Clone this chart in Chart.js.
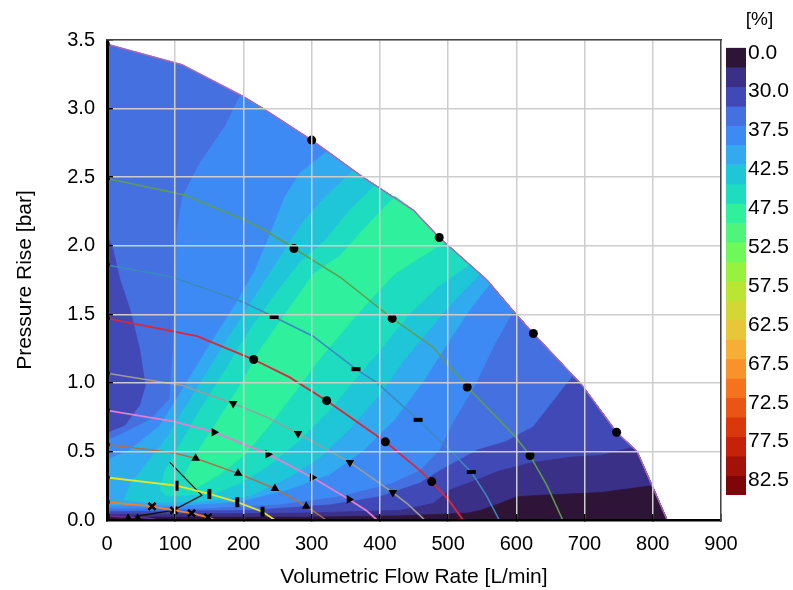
<!DOCTYPE html>
<html><head><meta charset="utf-8">
<script src="https://cdn.jsdelivr.net/npm/chart.js@4/dist/chart.umd.min.js"></script>
<style>
body{margin:0;background:#fff}
#wrap{position:relative;width:793px;height:590px;overflow:hidden}
canvas{position:absolute;top:0}
</style></head>
<body><div id="wrap">
<canvas id="main" width="793" height="590" style="left:0;width:793px;height:590px"></canvas>
<canvas id="cbar" width="71" height="590" style="left:722px;width:71px;height:590px"></canvas>
</div>
<script>
// ---------- data (flow L/min, pressure bar) ----------
const envelope = [[0,3.47],[110,3.32],[199,3.09],[229,3.00],[300,2.77],[375,2.50],[449,2.26],[487,2.06],[557,1.75],[598,1.51],[625,1.36],[696,0.985],[747,0.64],[777,0.50],[800,0.24],[821,0]];

// efficiency contour boundaries (upper-left side)
const bRoyalLight = [[195,3.09],[173,2.87],[136,2.60],[111,2.36],[103,2.12],[100,1.75],[97,1.24],[92,0.88],[63,0.73],[19,0.62],[0,0.58]];
const bLightSky  = [[323,2.69],[283,2.53],[261,2.36],[239,2.08],[217,1.82],[188,1.57],[151,1.28],[114,0.98],[78,0.69],[34,0.51],[0,0.44]];
const bSkyCyan   = [[361,2.55],[323,2.37],[290,2.19],[261,1.97],[227,1.71],[195,1.46],[158,1.17],[122,0.88],[85,0.58],[56,0.40],[34,0.26],[25,0.14]];
const bCyanTurq  = [[393,2.44],[356,2.26],[320,2.04],[283,1.88],[246,1.64],[210,1.39],[173,1.09],[136,0.80],[107,0.55],[85,0.36],[78,0.22],[88,0.17]];
const bTurqGreen = [[422,2.36],[378,2.13],[342,1.93],[302,1.79],[261,1.50],[224,1.24],[195,0.98],[158,0.69],[129,0.47],[114,0.33],[128,0.22]];
// lower-right side
const bGreenTurq = [[496,2.02],[459,1.91],[422,1.79],[386,1.60],[349,1.39],[312,1.17],[276,0.93],[239,0.69],[202,0.47],[166,0.33],[128,0.22]];
const bTurqCyan  = [[532,1.86],[488,1.71],[444,1.50],[408,1.28],[364,1.02],[327,0.80],[283,0.58],[239,0.40],[195,0.26],[151,0.18],[88,0.17]];
const bCyanSky   = [[547,1.79],[510,1.60],[474,1.39],[437,1.17],[400,0.91],[356,0.66],[312,0.45],[268,0.31],[210,0.17],[136,0.13],[60,0.12],[25,0.14]];
const bSkyLight  = [[562,1.72],[532,1.53],[503,1.31],[466,1.02],[422,0.73],[378,0.51],[327,0.33],[268,0.22],[195,0.13],[107,0.10],[0,0.10]];
const bLightRoyal= [[595,1.51],[569,1.28],[540,0.98],[510,0.73],[488,0.51],[459,0.36],[415,0.26],[342,0.17],[254,0.11],[136,0.08],[0,0.08]];
const bRoyalIndigo=[[683,1.05],[650,0.84],[625,0.68],[584,0.57],[543,0.51],[510,0.42],[488,0.36],[459,0.27],[400,0.17],[327,0.11],[210,0.07],[0,0.06]];
const bIndigoDark= [[771,0.53],[723,0.47],[683,0.46],[625,0.42],[576,0.36],[551,0.31],[525,0.26],[503,0.22],[478,0.12],[430,0.07],[283,0.05],[0,0.04]];
const bDarkPurple= [[799,0.25],[723,0.20],[635,0.18],[601,0.17],[576,0.12],[547,0.07],[528,0.05],[430,0.03],[283,0.02],[0,0.02]];
const leftIndigo = [[0,2.08],[9,1.97],[19,1.75],[34,1.53],[48,1.24],[56,0.98],[48,0.84],[26,0.69],[0,0.64],[0,2.08]];

// speed curves
const curveGreen  = [[0,2.49],[114,2.37],[200,2.19],[229,2.12],[274,1.98],[342,1.77],[418,1.47],[478,1.26],[528,0.97],[598,0.61],[620,0.47],[645,0.25],[668,0]];
const curveBlue   = [[0,1.86],[97,1.77],[199,1.59],[245,1.48],[302,1.34],[365,1.10],[396,1.00],[456,0.73],[500,0.52],[534,0.35],[556,0.18],[575,0]];
const curveRed    = [[0,1.47],[132,1.34],[215,1.17],[268,1.04],[322,0.87],[408,0.57],[459,0.36],[476,0.28],[500,0.15],[522,0]];
const curveGray   = [[0,1.07],[111,0.98],[185,0.85],[234,0.75],[280,0.63],[356,0.42],[419,0.20],[440,0.12],[455,0.05],[466,0]];
const curvePink   = [[0,0.80],[97,0.72],[157,0.64],[236,0.48],[301,0.31],[355,0.15],[380,0.07],[396,0]];
const curveBrown  = [[0,0.55],[97,0.49],[130,0.45],[192,0.34],[246,0.23],[292,0.10],[310,0.04],[321,0]];
const curveYellow = [[0,0.31],[102,0.25],[150,0.19],[191,0.13],[228,0.06],[246,0]];
const curveOrange = [[0,0.13],[66,0.10],[98,0.07],[124,0.05],[148,0.02],[158,0]];
const curveBottom = [[0,0.03],[31,0.02],[45,0.02],[60,0.015],[75,0]];
const operatingLine = [[92,0.42],[139,0.18],[97,0.07],[59,0.04],[40,0.025]];

// markers
const mkEnvelope = [[300,2.77],[487,2.06],[625,1.36],[747,0.64]];
const mkGreen  = [[274,1.98],[418,1.47],[528,0.97],[620,0.47]];
const mkBlue   = [[245,1.48],[365,1.10],[456,0.73],[534,0.35]];
const mkRed    = [[215,1.17],[322,0.87],[408,0.57],[476,0.28]];
const mkGray   = [[185,0.85],[280,0.63],[356,0.42],[419,0.20]];
const mkPink   = [[157,0.64],[236,0.48],[301,0.31],[355,0.15]];
const mkBrown  = [[130,0.45],[192,0.34],[246,0.23],[292,0.10]];
const mkYellow = [[102,0.25],[150,0.19],[191,0.13],[228,0.06]];
const mkOrange = [[66,0.10],[98,0.07],[124,0.05],[148,0.02]];
const mkBottom = [[31,0.02],[45,0.02]];

// colour scale
const colorbarLabels = ['0.0','30.0','37.5','42.5','47.5','52.5','57.5','62.5','67.5','72.5','77.5','82.5'];
const colorbarColors = ['#2e1538','#3b3088','#4149b6','#4570e0','#3e8af4','#31aaef','#1fc6d8','#1edcbf','#2ef09d','#4ff57a','#6ef85a','#97f23d','#b8e632','#d3d634','#e8c63a','#f7ae34','#f8922a','#f5731f','#e85514','#d8380c','#c4220a','#a21208','#7e0608'];

// ---------- build ----------
const FONT = "'Liberation Sans', Arial, sans-serif";
const C = colorbarColors;
const xy = a => a.map(p => ({x:p[0], y:p[1]}));
const envEnd = envelope[envelope.length-1];

function region(b){
  const s = b[0], e = b[b.length-1];
  const pts = [...b, [e[0],0], envEnd];
  const env = envelope.filter(p => p[0] > s[0]).reverse().slice(1);
  return [...pts, ...env, s];
}
let paint = 0;
function polyDS(pts, color){
  return {data: xy(pts), fill:'shape', backgroundColor:color, borderColor:color, borderWidth:0.8,
          pointRadius:0, tension:0, order: 1000 - (paint++)};
}
function lineDS(pts, color, w){
  return {data: xy(pts), borderColor:color, borderWidth:w, pointRadius:0, fill:false, tension:0, order:100};
}
function markDS(pts, style, rot, r, bw){
  return {data: xy(pts), showLine:false, pointStyle:style, rotation:rot, pointRadius:r,
          pointBackgroundColor:'#000', pointBorderColor:'#000', pointBorderWidth:bw, order:10};
}

const baseRegion = [...envelope, [0,0], envelope[0]];
const curves = [envelope, curveGreen, curveBlue, curveRed, curveGray, curvePink, curveBrown, curveYellow, curveOrange, curveBottom];

const datasets = [
  polyDS(baseRegion, C[3]),
  polyDS(region(bRoyalLight), C[4]),
  polyDS(region(bLightSky), C[5]),
  polyDS(region(bSkyCyan), C[6]),
  polyDS(region(bCyanTurq), C[7]),
  polyDS(region(bTurqGreen), C[8]),
  polyDS(region(bGreenTurq), C[7]),
  polyDS(region(bTurqCyan), C[6]),
  polyDS(region(bCyanSky), C[5]),
  polyDS(region(bSkyLight), C[4]),
  polyDS(region(bLightRoyal), C[3]),
  polyDS(region(bRoyalIndigo), C[2]),
  polyDS(region(bIndigoDark), C[1]),
  polyDS(region(bDarkPurple), C[0]),
  polyDS(leftIndigo, C[2]),
  lineDS(envelope, '#a868b8', 1.5),
  lineDS(curveGreen, '#5e9e4e', 1.5),
  lineDS(curveBlue, '#3a8abf', 1.5),
  lineDS(curveRed, '#d8283c', 1.8),
  lineDS(curveGray, '#9c9c9c', 1.5),
  lineDS(curvePink, '#e27fd0', 1.8),
  lineDS(curveBrown, '#b0704a', 1.5),
  lineDS(curveYellow, '#e6e62a', 1.8),
  lineDS(curveOrange, '#f07f28', 1.8),
  lineDS(curveBottom, '#6b2f8f', 1.5),
  lineDS(operatingLine, '#111111', 1.3),
  markDS(mkEnvelope, 'circle', 0, 4.5, 0),
  markDS(mkGreen, 'circle', 0, 4.5, 0),
  markDS(mkRed, 'circle', 0, 4.5, 0),
  markDS(mkBlue, 'line', 0, 4.5, 4),
  markDS(mkGray, 'triangle', 180, 5, 0),
  markDS(mkPink, 'triangle', 90, 5, 0),
  markDS(mkBrown, 'triangle', 0, 5, 0),
  markDS(mkYellow, 'line', 90, 5, 4),
  markDS(mkOrange, 'crossRot', 0, 5, 2.5),
  markDS(mkBottom, 'triangle', 0, 4, 0),
  markDS(curves.map(c => c[0]), 'circle', 0, 2.8, 0)
];

const tickFont = {size:20, family:FONT};
const titleFont = {size:21, family:FONT};
new Chart(document.getElementById('main'), {
  type:'line',
  data:{datasets},
  options:{
    responsive:false, animation:false, events:[],
    layout:{padding:{left:0, right:72, top:40, bottom:0}},
    plugins:{legend:{display:false}, tooltip:{enabled:false}},
    scales:{
      x:{type:'linear', min:0, max:900,
        ticks:{stepSize:100, color:'#000', font:tickFont, padding:18, maxRotation:0, autoSkip:false},
        grid:{color:'#cdcdcd', lineWidth:1.5, tickLength:-6, tickColor:'#000', tickWidth:1.5, z:1},
        border:{color:'#000', width:2.5, z:2},
        title:{display:true, text:'Volumetric Flow Rate [L/min]', color:'#000', font:titleFont, padding:{top:0,bottom:0}},
        afterFit:s=>{s.height=70;}},
      y:{type:'linear', min:0, max:3.5,
        ticks:{stepSize:0.5, color:'#000', font:tickFont, padding:18, callback:v=>Number(v).toFixed(1)},
        grid:{color:'#cdcdcd', lineWidth:1.5, tickLength:-6, tickColor:'#000', tickWidth:1.5, z:1},
        border:{color:'#000', width:3, z:2},
        title:{display:true, text:'Pressure Rise [bar]', color:'#000', font:titleFont, padding:{top:13,bottom:0}},
        afterFit:s=>{s.width=107;}},
      x2:{type:'linear', position:'top', min:0, max:900,
        grid:{display:false, drawTicks:false}, ticks:{display:false},
        border:{color:'#444', width:1.5, z:2}, afterFit:s=>{s.height=0;}},
      y2:{type:'linear', position:'right', min:0, max:3.5,
        grid:{display:false, drawTicks:false}, ticks:{display:false},
        border:{color:'#444', width:1.5, z:2}, afterFit:s=>{s.width=0;}}
    }
  }
});

new Chart(document.getElementById('cbar'), {
  type:'bar',
  data:{labels:[''], datasets: colorbarColors.map((c,i)=>({data:[[i,i+1]], backgroundColor:c, borderWidth:0,
        barPercentage:1, categoryPercentage:1, grouped:false}))},
  options:{
    responsive:false, animation:false, events:[],
    layout:{padding:{left:4, right:0, top:8, bottom:95}},
    plugins:{legend:{display:false}, tooltip:{enabled:false},
      title:{display:true, text:'[%]', color:'#000', font:{size:19, family:FONT, weight:'normal'}, padding:{top:0,bottom:17}}},
    scales:{
      x:{display:false},
      y:{position:'right', reverse:true, min:0, max:colorbarColors.length,
        grid:{display:false, drawTicks:false}, border:{display:false},
        ticks:{color:'#000', font:{size:21, family:FONT}, padding:2, labelOffset:5,
               callback:(v)=>colorbarLabels[Math.round(v/2)]},
        afterBuildTicks:s=>{s.ticks = colorbarLabels.map((l,i)=>({value:i*2}));},
        afterFit:s=>{s.width=47;}}
    }
  }
});
</script>
</body></html>
